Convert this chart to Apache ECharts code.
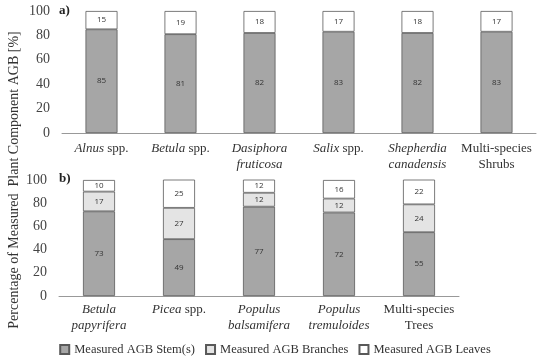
<!DOCTYPE html>
<html><head><meta charset="utf-8">
<script src="https://cdn.jsdelivr.net/npm/echarts@6/dist/echarts.min.js"></script>
<style>html,body{margin:0;padding:0;background:#fff}#c{width:550px;height:364px}</style>
</head><body><div id="c"></div>
<script>
var shrubCats = ['{i|Alnus} spp.', '{i|Betula} spp.', '{i|Dasiphora}\n{i|fruticosa}', '{i|Salix} spp.', '{i|Shepherdia}\n{i|canadensis}', 'Multi-species\nShrubs'];
var shrubStem = [85, 81, 82, 83, 82, 83];
var shrubLeaves = [15, 19, 18, 17, 18, 17];
var treeCats = ['{i|Betula}\n{i|papyrifera}', '{i|Picea} spp.', '{i|Populus}\n{i|balsamifera}', '{i|Populus}\n{i|tremuloides}', 'Multi-species\nTrees'];
var treeStem = [73, 49, 77, 72, 55];
var treeBranches = [17, 27, 12, 12, 24];
var treeLeaves = [10, 25, 12, 16, 22];
var yTicks = [0, 20, 40, 60, 80, 100];

var serif = 'Liberation Serif';
var colStem = '#a6a6a6', colBr = '#e4e4e4', colLv = '#ffffff', colBorder = '#595959';
var lbl = {show: true, position: 'inside', fontFamily: 'Open Sans', fontSize: 8, color: '#333'};
function bar(name, data, g, color) {
  return {name: name, type: 'bar', stack: 's' + g, xAxisIndex: g, yAxisIndex: g, data: data, barWidth: 32,
    itemStyle: {color: color, borderColor: colBorder, borderWidth: 0.8}, label: lbl};
}
function xLabel(m) {
  return {interval: 0, fontFamily: serif, fontSize: 13, color: '#333', lineHeight: 16, margin: m,
    rich: {i: {fontStyle: 'italic', fontFamily: serif, fontSize: 13, color: '#333', lineHeight: 16}}};
}
var yAx = function (g) {
  return {type: 'value', gridIndex: g, min: 0, max: 100, interval: 20, splitLine: {show: false},
    axisLine: {show: false}, axisTick: {show: false},
    axisLabel: {fontFamily: serif, fontSize: 14, color: '#444', margin: 12}};
};
var chart = echarts.init(document.getElementById('c'));
chart.setOption({
  animation: false,
  grid: [{left: 62, right: 14, top: 11, height: 122}, {left: 59, width: 400, top: 180, height: 116}],
  xAxis: [
    {type: 'category', gridIndex: 0, data: shrubCats, axisTick: {show: false}, axisLine: {lineStyle: {color: '#999'}}, axisLabel: xLabel(8)},
    {type: 'category', gridIndex: 1, data: treeCats, axisTick: {show: false}, axisLine: {lineStyle: {color: '#999'}}, axisLabel: xLabel(6)}
  ],
  yAxis: [yAx(0), yAx(1)],
  legend: {bottom: 3, left: 'center', icon: 'rect', itemWidth: 9, itemHeight: 9, itemGap: 10,
    textStyle: {fontFamily: serif, fontSize: 12.5, color: '#333'},
    data: ['Measured AGB Stem(s)', 'Measured AGB Branches', 'Measured AGB Leaves']},
  series: [
    bar('Measured AGB Stem(s)', shrubStem, 0, colStem),
    bar('Measured AGB Leaves', shrubLeaves, 0, colLv),
    bar('Measured AGB Stem(s)', treeStem, 1, colStem),
    bar('Measured AGB Branches', treeBranches, 1, colBr),
    bar('Measured AGB Leaves', treeLeaves, 1, colLv)
  ],
  graphic: [
    {type: 'text', left: 59, top: 4, style: {text: 'a)', font: 'bold 13px "Liberation Serif"', fill: '#222'}},
    {type: 'text', left: 59, top: 172, style: {text: 'b)', font: 'bold 13px "Liberation Serif"', fill: '#222'}},
    {type: 'text', x: 14, y: 180, rotation: Math.PI / 2,
      style: {text: 'Percentage of Measured  Plant Component AGB [%]', font: '14px "Liberation Serif"', fill: '#333', align: 'center', verticalAlign: 'middle'}}
  ]
});
</script></body></html>
